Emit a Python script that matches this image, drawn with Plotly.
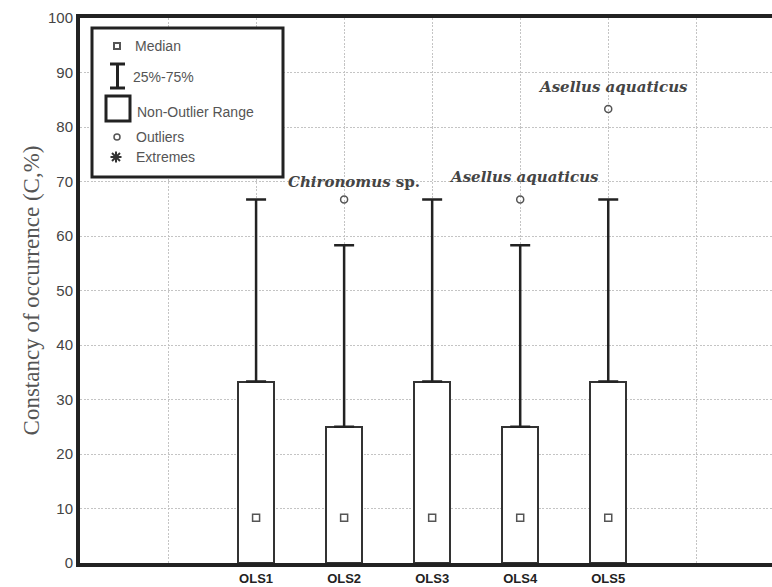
import plotly.graph_objects as go
import numpy as np

# ---- data ----
categories = ["OLS1", "OLS2", "OLS3", "OLS4", "OLS5"]
box_low = [0, 0, 0, 0, 0]
box_high = [33.3, 25.0, 33.3, 25.0, 33.3]
whisker_high = [66.7, 58.3, 66.7, 58.3, 66.7]
medians = [8.3, 8.3, 8.3, 8.3, 8.3]
outlier_cats = ["OLS2", "OLS4", "OLS5"]
outlier_vals = [66.7, 66.7, 83.3]
outlier_labels = ["<b><i>Chironomus</i> sp.</b>", "<b><i>Asellus aquaticus</i></b>", "<b><i>Asellus aquaticus</i></b>"]
y_ticks = list(range(0, 101, 10))

pos = {c: i + 1 for i, c in enumerate(categories)}
xs = [pos[c] for c in categories]
ox = [pos[c] for c in outlier_cats]

W, H = 772, 587
ML, MR, MT, MB = 80, 0, 18, 24
pw, ph = W - ML - MR, H - MT - MB

def px(x, y):
    return (x - ML) / pw, (H - MB - y) / ph

fig = go.Figure()
fig.add_trace(go.Bar(
    x=xs, y=list(np.array(box_high) - np.array(box_low)), base=box_low, width=0.41,
    marker=dict(color="white", line=dict(color="#333", width=2)), showlegend=False,
    hoverinfo="skip"))
fig.add_trace(go.Scatter(
    x=xs, y=box_high, mode="markers", marker=dict(size=1, opacity=0),
    error_y=dict(type="data", symmetric=False,
                 array=list(np.array(whisker_high) - np.array(box_high)),
                 arrayminus=[0] * len(xs), width=10, thickness=2.5, color="#222"),
    showlegend=False, hoverinfo="skip"))
fig.add_trace(go.Scatter(
    x=xs, y=medians, mode="markers",
    marker=dict(symbol="square-open", size=7, color="#555", line=dict(width=1.5)),
    showlegend=False))
fig.add_trace(go.Scatter(
    x=ox, y=outlier_vals, mode="markers",
    marker=dict(symbol="circle-open", size=7, color="#555", line=dict(width=1.5)),
    showlegend=False))

shifts = [(10, 17), (4, 22), (5, 22)]
for (x, y, t, (dx, dy)) in zip(ox, outlier_vals, outlier_labels, shifts):
    fig.add_annotation(x=x, y=y, text=t, showarrow=False, xshift=dx, yshift=dy,
                       font=dict(family="DejaVu Serif", size=15, color="#444"))

# ---- legend box (decoration) ----
shapes = []
x0, y0 = px(92, 28); x1, y1 = px(283, 177)
shapes.append(dict(type="rect", xref="paper", yref="paper", x0=x0, y0=y1, x1=x1, y1=y0,
                   line=dict(color="#222", width=3), fillcolor="white", layer="above"))
# median square
a, b = px(114, 43); c, d = px(120, 49)
shapes.append(dict(type="rect", xref="paper", yref="paper", x0=a, y0=d, x1=c, y1=b,
                   line=dict(color="#555", width=2), layer="above"))
# I-beam
for (xa, ya, xb, yb) in [(117.5, 64, 117.5, 88), (110, 64, 125, 64), (110, 88, 125, 88)]:
    p, q = px(xa, ya); r, s = px(xb, yb)
    shapes.append(dict(type="line", xref="paper", yref="paper", x0=p, y0=q, x1=r, y1=s,
                       line=dict(color="#222", width=3), layer="above"))
# big square
a, b = px(106, 96); c, d = px(130, 121)
shapes.append(dict(type="rect", xref="paper", yref="paper", x0=a, y0=d, x1=c, y1=b,
                   line=dict(color="#222", width=3), layer="above"))
# outlier circle
a, b = px(114, 134); c, d = px(120, 140)
shapes.append(dict(type="circle", xref="paper", yref="paper", x0=a, y0=d, x1=c, y1=b,
                   line=dict(color="#555", width=1.5), layer="above"))
# asterisk
cx, cy = 116, 157
for (dx, dy) in [(5.5, 0), (0, 5.5), (4, 4), (4, -4)]:
    p, q = px(cx - dx, cy - dy); r, s = px(cx + dx, cy + dy)
    shapes.append(dict(type="line", xref="paper", yref="paper", x0=p, y0=q, x1=r, y1=s,
                       line=dict(color="#333", width=2), layer="above"))
fig.update_layout(shapes=shapes)

leg_items = [("Median", 133, 46), ("25%-75%", 131, 77), ("Non-Outlier Range", 135, 112),
             ("Outliers", 134, 137), ("Extremes", 134, 157)]
for t, lx, ly in leg_items:
    p, q = px(lx, ly)
    fig.add_annotation(x=p, y=q, xref="paper", yref="paper", text=t, showarrow=False,
                       xanchor="left", yanchor="middle",
                       font=dict(family="Liberation Sans", size=14, color="#555"))

fig.update_layout(
    width=W, height=H, margin=dict(l=ML, r=MR, t=MT, b=MB, pad=0),
    plot_bgcolor="white", paper_bgcolor="white", bargap=0,
    xaxis=dict(range=[-1, 6.86], tickvals=list(range(0, 7)),
               ticktext=[""] + categories + [""],
               showgrid=True, gridcolor="#c4c4c4", griddash="2px,1.5px", gridwidth=1,
               showline=True, linewidth=4, linecolor="#222", mirror=True,
               zeroline=False, ticks="",
               tickfont=dict(family="Liberation Sans", size=13, color="#222", weight="bold")),
    yaxis=dict(range=[0, 100], tickvals=y_ticks,
               showgrid=True, gridcolor="#c4c4c4", griddash="2px,1.5px", gridwidth=1,
               showline=True, linewidth=4, linecolor="#222", zeroline=False, ticks="",
               tickfont=dict(family="Liberation Sans", size=15, color="#444"),
               title=dict(text="Constancy of occurrence (C,%)", standoff=3,
                          font=dict(family="Liberation Serif", size=23, color="#555"))),
)

fig.write_html("out.html", config={"displayModeBar": False},
               post_script="document.body.style.margin='0px';document.body.style.overflow='hidden';")
